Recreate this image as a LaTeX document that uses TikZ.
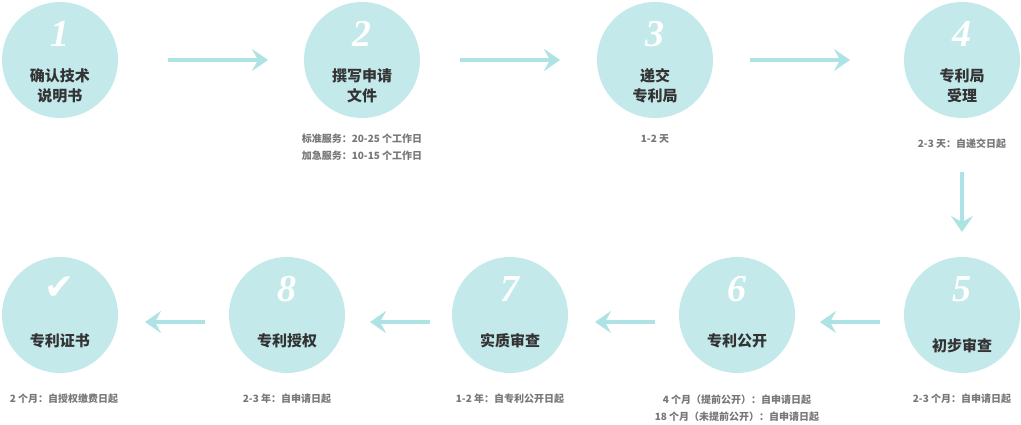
\documentclass[tikz,border=0pt]{standalone}
\usepackage{fontspec}
\setmainfont{Noto Sans CJK SC}
\newfontfamily\numf{Liberation Serif}
\newfontfamily\symf{DejaVu Sans}
\usetikzlibrary{arrows.meta,calc}
\definecolor{circ}{HTML}{C3E9EA}
\definecolor{arr}{HTML}{AEE3E5}
\definecolor{txt}{HTML}{333333}
\definecolor{sub}{HTML}{777777}
\begin{document}
\begin{tikzpicture}[x=1pt,y=-1pt,
  stepc/.style={circle,fill=circ,minimum size=116pt,inner sep=0pt},
  numl/.style={text=white,font=\numf\itshape\bfseries\fontsize{38}{38}\selectfont},
  lab/.style={text=txt,font=\bfseries\fontsize{15}{20}\selectfont,align=center},
  note/.style={text=sub,font=\bfseries\fontsize{10}{17}\selectfont,align=center},
  flow/.style={draw=arr,line width=4pt,-{Stealth[length=16pt,width=22pt,inset=6pt]}}]
\useasboundingbox (0,0) rectangle (1021,425);
\foreach \n/\x/\y in {1/60/60,2/362/60,3/655/60,4/962/60,5/962/315,6/737/315,7/510/315,8/287/315,9/60/315}{
  \node[stepc] (c\n) at (\x,\y) {};
}
\foreach \n in {1,...,8}{\node[numl] (n\n) at ($(c\n)+(0,-26)$) {\n};}
\node[text=white,font=\symf\bfseries\fontsize{36}{36}\selectfont] (n9) at (60,288) {✔};
\node[lab] (l1) at (60,86) {确认技术\\说明书};
\node[lab] (l2) at (362,86) {撰写申请\\文件};
\node[lab] (l3) at (655,86) {递交\\专利局};
\node[lab] (l4) at (962,86) {专利局\\受理};
\node[lab] (l5) at (962,346) {初步审查};
\node[lab] (l6) at (737,341) {专利公开};
\node[lab] (l7) at (510,341) {实质审查};
\node[lab] (l8) at (287,341) {专利授权};
\node[lab] (l9) at (60,341) {专利证书};
\node[note] (t2) at (362,147) {标准服务：20-25 个工作日\\加急服务：10-15 个工作日};
\node[note] (t3) at (655,139) {1-2 天};
\node[note] (t4) at (962,144) {2-3 天：自递交日起};
\node[note] (t5) at (962,399) {2-3 个月：自申请日起};
\node[note] (t6) at (737,408) {4 个月（提前公开）：自申请日起\\18 个月（未提前公开）：自申请日起};
\node[note] (t7) at (510,399) {1-2 年：自专利公开日起};
\node[note] (t8) at (287,399) {2-3 年：自申请日起};
\node[note] (t9) at (64,399) {2 个月：自授权缴费日起};
\coordinate (a1s) at (168,60); \coordinate (a1e) at (268,60);
\coordinate (a2s) at (460,60); \coordinate (a2e) at (560,60);
\coordinate (a3s) at (750,60); \coordinate (a3e) at (850,60);
\coordinate (a4s) at (962,172); \coordinate (a4e) at (962,232);
\coordinate (a5s) at (880,322); \coordinate (a5e) at (820,322);
\coordinate (a6s) at (655,322); \coordinate (a6e) at (595,322);
\coordinate (a7s) at (430,322); \coordinate (a7e) at (370,322);
\coordinate (a8s) at (205,322); \coordinate (a8e) at (145,322);
\foreach \i in {1,...,8}{\draw[flow] (a\i s) -- (a\i e);}
\end{tikzpicture}
\end{document}
